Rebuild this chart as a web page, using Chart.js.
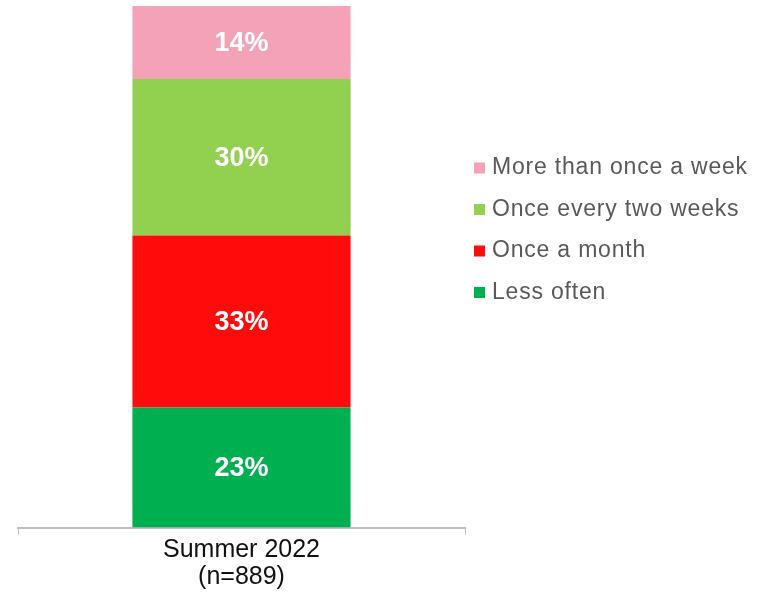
<!DOCTYPE html>
<html>
<head>
<meta charset="utf-8">
<script src="https://cdn.jsdelivr.net/npm/chart.js@4/dist/chart.umd.min.js"></script>
<style>
  html, body { margin: 0; padding: 0; background: #ffffff; }
  #wrap { width: 769px; height: 592px; position: relative; }
</style>
</head>
<body>
<div id="wrap"><canvas id="c" width="769" height="592"></canvas></div>
<script>
// Survey wave shown on the category axis
const categories = [['Summer 2022', '(n=889)']];

// Stacked from the bottom of the bar upwards
const seriesNames = ['Less often', 'Once a month', 'Once every two weeks', 'More than once a week'];
const lessOften = [23];
const onceAMonth = [33];
const onceEveryTwoWeeks = [30];
const moreThanOnceAWeek = [14];
const seriesColors = ['#00B050', '#FF0B0B', '#92D050', '#F4A2B8'];

const seriesValues = [lessOften, onceAMonth, onceEveryTwoWeeks, moreThanOnceAWeek];

const FONT = "'Liberation Sans', Arial, Helvetica, sans-serif";

// Percentage text in the middle of each segment
const segmentLabels = {
  id: 'segmentLabels',
  afterDatasetsDraw(chart) {
    const ctx = chart.ctx;
    ctx.save();
    ctx.font = 'bold 27px ' + FONT;
    ctx.fillStyle = '#ffffff';
    ctx.textAlign = 'center';
    ctx.textBaseline = 'middle';
    chart.data.datasets.forEach((ds, i) => {
      const meta = chart.getDatasetMeta(i);
      meta.data.forEach((bar, j) => {
        const v = ds.data[j];
        const y = (bar.y + bar.base) / 2;
        ctx.fillText(v + '%', bar.x, y + 1);
      });
    });
    ctx.restore();
  }
};

// Legend on the right, top entry = top segment
const sideLegend = {
  id: 'sideLegend',
  afterDraw(chart) {
    const ctx = chart.ctx;
    const x0 = 474, y0 = 168, rowGap = 41.5, box = 11;
    ctx.save();
    ctx.font = '23px ' + FONT;
    ctx.letterSpacing = '0.8px';
    ctx.textBaseline = 'middle';
    ctx.textAlign = 'left';
    const items = chart.data.datasets.slice().reverse();
    items.forEach((ds, k) => {
      const cy = y0 + k * rowGap;
      ctx.fillStyle = ds.backgroundColor;
      ctx.fillRect(x0, cy - box / 2, box, box);
      ctx.fillStyle = '#595959';
      ctx.fillText(ds.label, x0 + 18, cy);
    });
    ctx.restore();
  }
};

new Chart(document.getElementById('c'), {
  type: 'bar',
  data: {
    labels: categories,
    datasets: seriesNames.map((name, i) => ({
      label: name,
      data: seriesValues[i],
      backgroundColor: seriesColors[i],
      borderWidth: 0,
      barPercentage: 0.488,
      categoryPercentage: 1.0
    }))
  },
  options: {
    responsive: false,
    animation: false,
    devicePixelRatio: 1,
    layout: { padding: { left: 18, right: 304, top: 6, bottom: 0 } },
    plugins: {
      legend: { display: false },
      tooltip: { enabled: false }
    },
    scales: {
      x: {
        stacked: true,
        border: { display: true, color: '#BDBDBD', width: 2 },
        grid: {
          display: true,
          offset: true,
          drawOnChartArea: false,
          drawTicks: true,
          tickLength: 7,
          color: '#BDBDBD',
          lineWidth: 1
        },
        ticks: {
          color: '#111111',
          padding: 2,
          font: { family: FONT, size: 25, lineHeight: 1.07 }
        }
      },
      y: {
        stacked: true,
        display: false,
        min: 0,
        max: 100
      }
    }
  },
  plugins: [segmentLabels, sideLegend]
});
</script>
</body>
</html>
